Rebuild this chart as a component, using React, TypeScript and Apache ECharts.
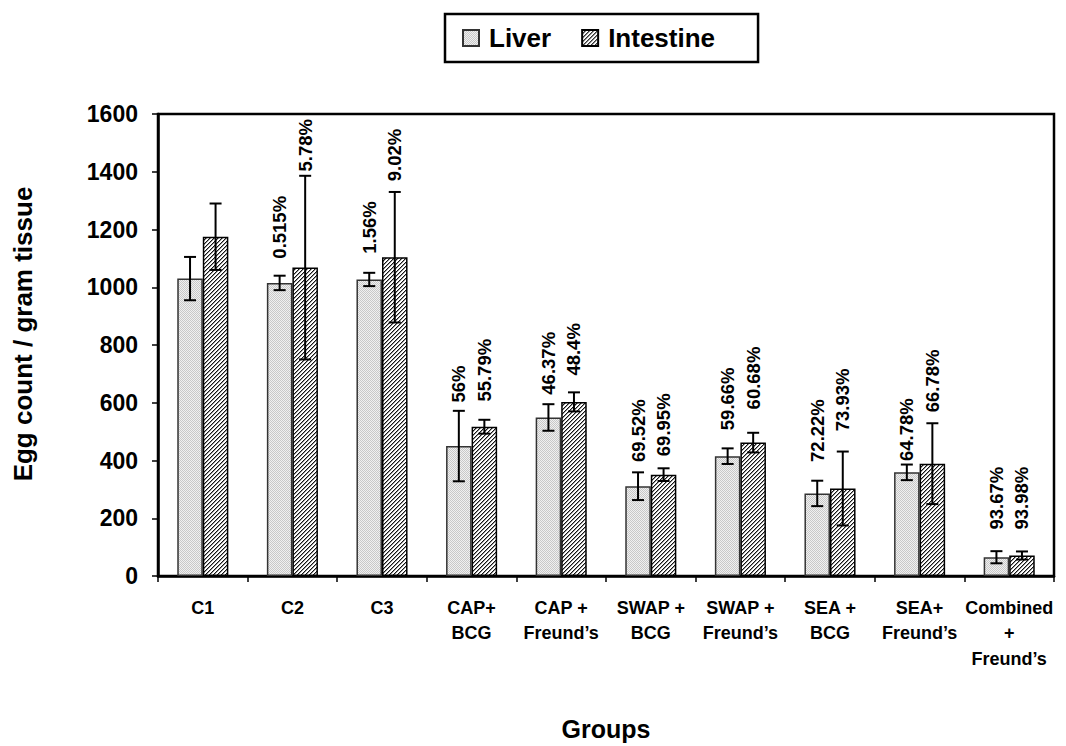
import React, { useEffect, useRef } from "react";
import * as echarts from "echarts";

const categories = [
  "C1",
  "C2",
  "C3",
  "CAP+\nBCG",
  "CAP +\nFreund\u2019s",
  "SWAP +\nBCG",
  "SWAP +\nFreund\u2019s",
  "SEA +\nBCG",
  "SEA+\nFreund\u2019s",
  "Combined\n+\nFreund\u2019s",
];
const liver = [1030, 1015, 1027, 450, 549, 311, 415, 286, 359, 65];
const liverErr = [75, 25, 23, 122, 46, 48, 27, 44, 27, 21];
const intestine = [1175, 1068, 1104, 517, 603, 351, 462, 303, 389, 71];
const intestineErr = [115, 318, 226, 24, 33, 22, 34, 128, 140, 14];
const liverLabels = ["", "0.515%", "1.56%", "56%", "46.37%", "69.52%", "59.66%", "72.22%", "64.78%", "93.67%"];
const intestineLabels = ["", "5.78%", "9.02%", "55.79%", "48.4%", "69.95%", "60.68%", "73.93%", "66.78%", "93.98%"];
// value (in egg count units) where each rotated label starts
const liverLabelAt = [0, 1099, 1116, 601, 628, 395, 505, 395, 398, 161];
const intestineLabelAt = [0, 1401, 1367, 604, 694, 415, 577, 501, 567, 161];
const yTicks = { min: 0, max: 1600, interval: 200 };

const FONT = "Arial, 'Liberation Sans', sans-serif";

function makeStipple(): HTMLCanvasElement {
  const c = document.createElement("canvas");
  c.width = 4;
  c.height = 4;
  const ctx = c.getContext("2d")!;
  const img = ctx.createImageData(4, 4);
  for (let y = 0; y < 4; y++) {
    for (let x = 0; x < 4; x++) {
      const dark = (x + y) % 2 === 0;
      const v = dark ? 200 : 240;
      const k = (y * 4 + x) * 4;
      img.data[k] = v;
      img.data[k + 1] = v;
      img.data[k + 2] = v;
      img.data[k + 3] = 255;
    }
  }
  ctx.putImageData(img, 0, 0);
  return c;
}

function makeHatch(): HTMLCanvasElement {
  const n = 4;
  const c = document.createElement("canvas");
  c.width = n;
  c.height = n;
  const ctx = c.getContext("2d")!;
  const img = ctx.createImageData(n, n);
  for (let y = 0; y < n; y++) {
    for (let x = 0; x < n; x++) {
      const d = (x + y) % n;
      const black = d === n - 1;
      const half = d === 0;
      const v = black ? 20 : half ? 150 : 255;
      const k = (y * n + x) * 4;
      img.data[k] = v;
      img.data[k + 1] = v;
      img.data[k + 2] = v;
      img.data[k + 3] = 255;
    }
  }
  ctx.putImageData(img, 0, 0);
  return c;
}

const GAP = 0.43;

function errSeries(name: string, vals: number[], errs: number[], labels: string[], labelAt: number[], sign: number) {
  return {
    type: "custom",
    name: name + "_err",
    z: 10,
    silent: true,
    data: vals.map((v, i) => [i, v, errs[i], labelAt[i]]),
    renderItem: (params: any, api: any) => {
      const i = api.value(0);
      const v = api.value(1);
      const e = api.value(2);
      const la = api.value(3);
      const band = api.size([1, 0])[0];
      const bw = (band * (1 - GAP)) / 2;
      const cx = api.coord([i, 0])[0] + (sign * bw) / 2;
      const yt = api.coord([i, v + e])[1];
      const yb = api.coord([i, v - e])[1];
      const cap = 6;
      const ls = { stroke: "#000", lineWidth: 2 };
      const children: any[] = [
        { type: "line", shape: { x1: cx, y1: yt, x2: cx, y2: yb }, style: ls },
        { type: "line", shape: { x1: cx - cap, y1: yt, x2: cx + cap, y2: yt }, style: ls },
        { type: "line", shape: { x1: cx - cap, y1: yb, x2: cx + cap, y2: yb }, style: ls },
      ];
      const txt = labels[params.dataIndex];
      if (txt) {
        const p = api.coord([i, la]);
        children.push({
          type: "text",
          x: cx,
          y: p[1],
          rotation: Math.PI / 2,
          style: {
            text: txt,
            fill: "#000",
            font: `bold 18.5px ${FONT}`,
            align: "left",
            verticalAlign: "middle",
          },
        });
      }
      return { type: "group", children };
    },
  };
}

export default function App() {
  const ref = useRef<HTMLDivElement>(null);
  useEffect(() => {
    if (!ref.current) return;
    const chart = echarts.init(ref.current, null, { renderer: "svg" });
    const stipple = { image: makeStipple(), repeat: "repeat" };
    const hatch = { image: makeHatch(), repeat: "repeat" };
    chart.setOption({
      animation: false,
      backgroundColor: "#fff",
      textStyle: { fontFamily: FONT },
      legend: {
        data: ["Liver", "Intestine"],
        left: 445,
        top: 14,
        padding: [11, 43, 11, 17],
        itemWidth: 16,
        itemHeight: 16,
        itemGap: 30,
        icon: "rect",
        borderColor: "#000",
        borderWidth: 2.5,
        textStyle: {
          fontSize: 26,
          fontWeight: "bold",
          color: "#000",
          fontFamily: FONT,
          padding: [0, 0, 0, 5],
        },
      },
      grid: {
        left: 158,
        right: 12,
        top: 114,
        bottom: 166,
        show: true,
        borderColor: "#000",
        borderWidth: 2.5,
        backgroundColor: "transparent",
      },
      xAxis: {
        type: "category",
        data: categories,
        name: "Groups",
        nameLocation: "middle",
        nameGap: 140,
        nameTextStyle: { fontSize: 25, fontWeight: "bold", color: "#000", fontFamily: FONT },
        axisLine: { lineStyle: { color: "#000", width: 2.5 } },
        axisTick: { show: true, length: 6, lineStyle: { color: "#000", width: 1.5 } },
        axisLabel: {
          interval: 0,
          color: "#000",
          fontSize: 18,
          fontWeight: "bold",
          lineHeight: 25.5,
          margin: 19,
          fontFamily: FONT,
        },
      },
      yAxis: {
        type: "value",
        min: yTicks.min,
        max: yTicks.max,
        interval: yTicks.interval,
        name: "Egg count / gram tissue",
        nameLocation: "middle",
        nameGap: 122,
        nameTextStyle: {
          fontSize: 26,
          fontWeight: "bold",
          color: "#000",
          fontFamily: FONT,
          padding: [0, 0, 0, 22],
        },
        axisLine: { show: true, lineStyle: { color: "#000", width: 2.5 } },
        axisTick: { show: true, length: 6, lineStyle: { color: "#000", width: 1.5 } },
        splitLine: { show: false },
        axisLabel: {
          color: "#000",
          fontSize: 23,
          fontWeight: "bold",
          margin: 20,
          fontFamily: FONT,
          formatter: (v: number) => String(v),
        },
      },
      series: [
        {
          type: "bar",
          name: "Liver",
          data: liver,
          barGap: "0%",
          barCategoryGap: "43%",
          itemStyle: { color: stipple, borderColor: "#333", borderWidth: 1.5 },
        },
        {
          type: "bar",
          name: "Intestine",
          data: intestine,
          itemStyle: { color: hatch, borderColor: "#000", borderWidth: 1.5 },
        },
        errSeries("Liver", liver, liverErr, liverLabels, liverLabelAt, -1),
        errSeries("Intestine", intestine, intestineErr, intestineLabels, intestineLabelAt, 1),
      ],
    });
    return () => chart.dispose();
  }, []);
  return (
    <div
      ref={ref}
      style={{ position: "absolute", left: 0, top: 0, width: 1066, height: 746 }}
    />
  );
}
